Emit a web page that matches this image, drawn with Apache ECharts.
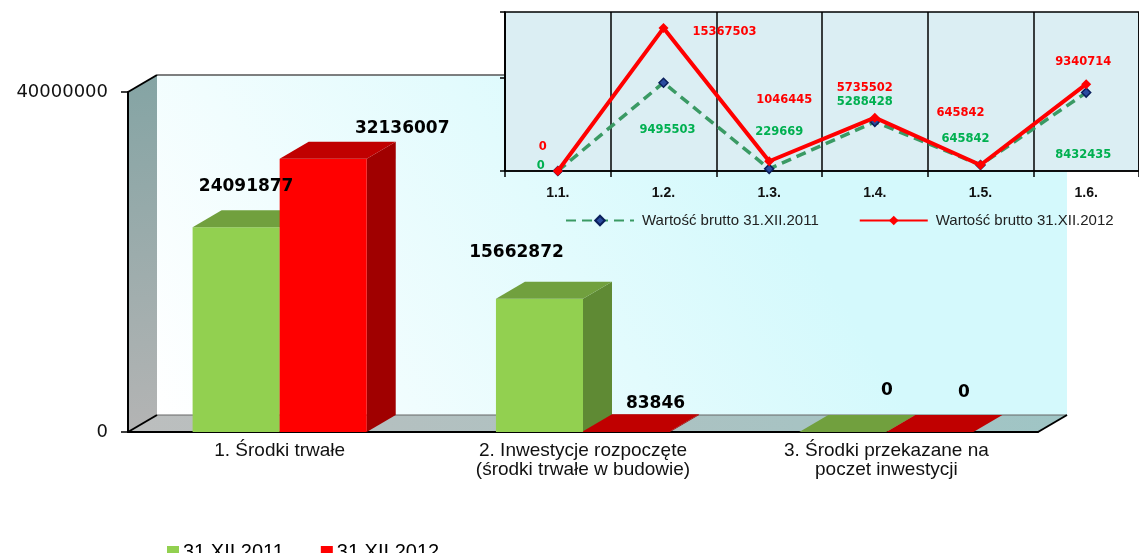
<!DOCTYPE html>
<html><head><meta charset="utf-8">
<script src="https://cdn.jsdelivr.net/npm/echarts@6/dist/echarts.min.js"></script>
<style>html,body{margin:0;padding:0;background:#fff}#c{width:1139px;height:553px}</style>
</head><body><div id="c"></div>
<script>
// ---------- data ----------
const mainCategories = ['1. Środki trwałe', '2. Inwestycje rozpoczęte\n(środki trwałe w budowie)', '3. Środki przekazane na\npoczet inwestycji'];
const mainSeriesNames = ['31.XII.2011', '31.XII.2012'];
const values2011 = [24091877, 15662872, 0];
const values2012 = [32136007, 83846, 0];
const mainYTicks = [0, 40000000];

const insetCategories = ['1.1.', '1.2.', '1.3.', '1.4.', '1.5.', '1.6.'];
const insetSeriesNames = ['Wartość brutto 31.XII.2011', 'Wartość brutto 31.XII.2012'];
const brutto2011 = [0, 9495503, 229669, 5288428, 645842, 8432435];
const brutto2012 = [0, 15367503, 1046445, 5735502, 645842, 9340714];
const insetYMax = 17100000;
const insetYInterval = 10000000;

// ---------- layout / style ----------
const DEPTH = [29, -17];
const BAR_RATIO = 0.287;
const BAR_LABEL_SHIFT = [
  [[10, -41], [-23, -46], [44, -41]],
  [[79, -30], [29, -28], [34, -39]]
];
const LINE_LABEL_SHIFT_2011 = [[-17, -5], [4, 47], [10, -37], [-10, -20], [-15, -26], [-3, 62]];
const LINE_LABEL_SHIFT_2012 = [[-15, -24], [61, 4], [15, -61], [-10, -30], [-20, -52], [-3, -22]];
const PAL = [
  { front: '#92d050', top: '#71a03e', side: '#5f8a34' },
  { front: '#ff0000', top: '#c00000', side: '#a00000' }
];

function makeBarRender(k) {
  return function (params, api) {
    const ci = api.value(0), v = api.value(1);
    const p0 = api.coord([ci, 0]);
    const p1 = api.coord([ci, v]);
    const band = api.size([1, 0])[0];
    const w = band * BAR_RATIO;
    const x0 = p0[0] - w + k * w, x1 = x0 + w;
    const yb = p0[1], yt = p1[1];
    const dx = DEPTH[0], dy = DEPTH[1];
    const s = BAR_LABEL_SHIFT[k][params.dataIndex];
    const pal = PAL[k];
    return {
      type: 'group', children: [
        { type: 'polygon', shape: { points: [[x1, yt], [x1 + dx, yt + dy], [x1 + dx, yb + dy], [x1, yb]] }, style: { fill: pal.side } },
        { type: 'rect', shape: { x: x0, y: yt, width: w, height: yb - yt }, style: { fill: pal.front } },
        { type: 'polygon', shape: { points: [[x0, yt], [x1, yt], [x1 + dx, yt + dy], [x0 + dx, yt + dy]] }, style: { fill: pal.top } },
        { type: 'text', x: (x0 + x1) / 2 + s[0], y: yt + s[1], z2: 20,
          style: { text: String(v), fill: '#000', fontSize: 17, fontWeight: 'bold', fontFamily: 'DejaVu Sans', align: 'center', verticalAlign: 'middle' } }
      ]
    };
  };
}

function frameRender(params, api) {
  const cs = params.coordSys;
  const x = cs.x, y = cs.y, w = cs.width, h = cs.height;
  const dx = DEPTH[0], dy = DEPTH[1];
  return {
    type: 'group', children: [
      { type: 'rect', shape: { x: x + dx, y: y + dy, width: w, height: h },
        style: { fill: new echarts.graphic.LinearGradient(0, 1, 0.6, 0, [{ offset: 0, color: '#ffffff' }, { offset: 1, color: '#d4f9fc' }]) } },
      { type: 'line', shape: { x1: x + dx, y1: y + dy, x2: x + w + dx, y2: y + dy }, style: { stroke: '#555', lineWidth: 1.5 } },
      { type: 'polygon', shape: { points: [[x, y], [x + dx, y + dy], [x + dx, y + h + dy], [x, y + h]] },
        style: { fill: new echarts.graphic.LinearGradient(0, 0, 1, 1, [{ offset: 0, color: '#84a4a4' }, { offset: 1, color: '#b4b4b4' }]) } },
      { type: 'polygon', shape: { points: [[x, y + h], [x + w, y + h], [x + w + dx, y + h + dy], [x + dx, y + h + dy]] },
        style: { fill: new echarts.graphic.LinearGradient(0, 0, 1, 0, [{ offset: 0, color: '#bcbebe' }, { offset: 1, color: '#9fc5c5' }]) } },
      { type: 'line', shape: { x1: x + dx, y1: y + h + dy, x2: x + w + dx, y2: y + h + dy }, style: { stroke: '#666', lineWidth: 1 } },
      { type: 'line', shape: { x1: x, y1: y, x2: x + dx, y2: y + dy }, style: { stroke: '#000', lineWidth: 2 } },
      { type: 'line', shape: { x1: x, y1: y + h, x2: x + dx, y2: y + h + dy }, style: { stroke: '#000', lineWidth: 2 } },
      { type: 'line', shape: { x1: x + w, y1: y + h, x2: x + w + dx, y2: y + h + dy }, style: { stroke: '#000', lineWidth: 2 } }
    ]
  };
}

const chart = echarts.init(document.getElementById('c'), null, { renderer: 'canvas' });
const insetLabelBase = { show: true, position: 'inside', fontSize: 11.5, fontWeight: 'bold', fontFamily: 'DejaVu Sans', align: 'center', verticalAlign: 'middle' };

chart.setOption({
  animation: false,
  backgroundColor: '#ffffff',
  grid: [
    { left: 128, width: 910, top: 92, height: 340 },
    { left: 505, width: 644, top: 12, height: 159, show: true, backgroundColor: '#dbeef3', borderColor: '#000', borderWidth: 1.5 }
  ],
  legend: [
    { data: mainSeriesNames, left: 167, top: 542, padding: 0, icon: 'rect', itemWidth: 12, itemHeight: 12, itemGap: 37,
      textStyle: { fontSize: 20, fontFamily: 'Liberation Sans', color: '#000', padding: [0, 0, 0, -1] } },
    { data: insetSeriesNames, left: 565, top: 213, padding: 0, itemWidth: 68, itemHeight: 12, itemGap: 40,
      textStyle: { fontSize: 15, fontFamily: 'Liberation Sans', color: '#222', padding: [0, 0, 0, 3] } }
  ],
  xAxis: [
    { type: 'category', gridIndex: 0, data: mainCategories,
      axisLine: { show: true, lineStyle: { color: '#000', width: 2 } }, axisTick: { show: false },
      axisLabel: { margin: 9, fontSize: 19, lineHeight: 19, fontFamily: 'Liberation Sans', color: '#111', interval: 0 },
      splitLine: { show: false } },
    { type: 'category', gridIndex: 1, data: insetCategories,
      axisLine: { show: true, lineStyle: { color: '#000', width: 1.5 } },
      axisTick: { show: true, length: 6, lineStyle: { color: '#000', width: 1.5 } },
      axisLabel: { margin: 15, fontSize: 14, fontWeight: 'bold', fontFamily: 'Liberation Sans', color: '#111' },
      splitLine: { show: true, lineStyle: { color: '#000', width: 1.5 } } }
  ],
  yAxis: [
    { type: 'value', gridIndex: 0, min: mainYTicks[0], max: mainYTicks[1], interval: mainYTicks[1] - mainYTicks[0],
      axisLine: { show: true, lineStyle: { color: '#000', width: 2 } },
      axisTick: { show: true, length: 7, lineStyle: { color: '#000', width: 1.5 } },
      axisLabel: { margin: 20, fontSize: 18, fontFamily: 'DejaVu Sans', color: '#111', formatter: v => String(v) },
      splitLine: { show: false } },
    { type: 'value', gridIndex: 1, min: 0, max: insetYMax, interval: insetYInterval,
      axisLine: { show: true, lineStyle: { color: '#000', width: 1.5 } },
      axisTick: { show: true, length: 5, lineStyle: { color: '#000', width: 1.5 } },
      axisLabel: { show: false }, splitLine: { show: false } }
  ],
  series: [
    { type: 'custom', name: 'frame', xAxisIndex: 0, yAxisIndex: 0, z: -1, silent: true, renderItem: frameRender, data: [[0, 0]] },
    { type: 'custom', name: mainSeriesNames[0], xAxisIndex: 0, yAxisIndex: 0, itemStyle: { color: PAL[0].front },
      renderItem: makeBarRender(0), encode: { x: 0, y: 1 }, data: values2011.map((v, i) => [i, v]) },
    { type: 'custom', name: mainSeriesNames[1], xAxisIndex: 0, yAxisIndex: 0, itemStyle: { color: PAL[1].front },
      renderItem: makeBarRender(1), encode: { x: 0, y: 1 }, data: values2012.map((v, i) => [i, v]) },
    { type: 'line', name: insetSeriesNames[0], xAxisIndex: 1, yAxisIndex: 1, z: 5,
      symbol: 'diamond', symbolSize: 9, showAllSymbol: true,
      lineStyle: { color: '#3a9a64', width: 3.5, type: [10, 6] },
      itemStyle: { color: '#2a4ca0', borderColor: '#0a1f5c', borderWidth: 1.5 },
      label: Object.assign({}, insetLabelBase, { color: '#00b050' }),
      data: brutto2011.map((v, i) => ({ value: v, label: { offset: LINE_LABEL_SHIFT_2011[i] } })) },
    { type: 'line', name: insetSeriesNames[1], xAxisIndex: 1, yAxisIndex: 1, z: 6,
      symbol: 'diamond', symbolSize: 10, showAllSymbol: true,
      lineStyle: { color: '#ff0000', width: 4 },
      itemStyle: { color: '#ff0000' },
      label: Object.assign({}, insetLabelBase, { color: '#ff0000' }),
      data: brutto2012.map((v, i) => ({ value: v, label: { offset: LINE_LABEL_SHIFT_2012[i] } })) }
  ]
});
</script></body></html>
